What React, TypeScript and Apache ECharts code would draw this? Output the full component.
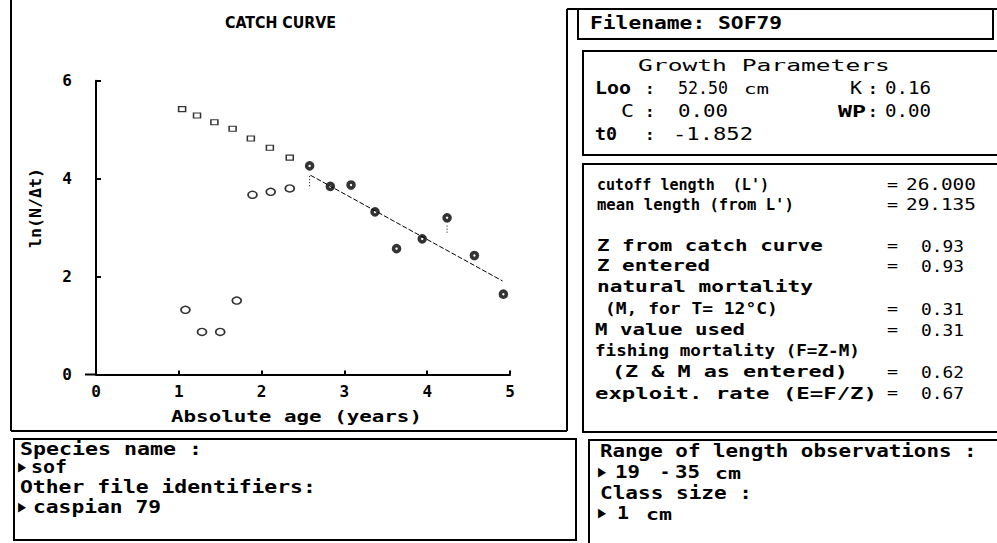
import React, { useEffect, useRef } from "react";
import * as echarts from "echarts";

// ---- data ----
const xTickLabels = ["0", "1", "2", "3", "4", "5"];
const yTickLabels = ["0", "2", "4", "6"];
// back-calculated (expected) points, small open squares
const expAge = [1.04, 1.22, 1.43, 1.65, 1.87, 2.1, 2.34];
const expLnN = [5.42, 5.29, 5.15, 5.02, 4.82, 4.63, 4.43];
// points not used in the regression (open circles)
const unusedAge = [1.08, 1.28, 1.5, 1.7, 1.89, 2.11, 2.34];
const unusedLnN = [1.32, 0.87, 0.87, 1.51, 3.67, 3.73, 3.8];
// points used in the regression (filled)
const usedAge = [2.58, 2.83, 3.08, 3.37, 3.63, 3.94, 4.24, 4.57, 4.92];
const usedLnN = [4.26, 3.84, 3.87, 3.32, 2.57, 2.77, 3.2, 2.43, 1.64];
// fitted regression line end points
const fitAge = [2.59, 4.91];
const fitLnN = [4.07, 1.91];
// short dotted drop marks under two of the used points
const dropAge = [2.58, 4.24];
const dropTop = [4.05, 3.04];
const dropBottom = [3.84, 2.86];

// ---- side panel texts ----
const fileName = "SOF79";
const speciesName = "sof";
const otherIds = "caspian 79";
const growthLoo = "52.50";
const growthK = "0.16";
const growthC = "0.00";
const growthWP = "0.00";
const growthT0 = "-1.852";
const statLabels = [
  "cutoff length  (L')",
  "mean length (from L')",
  "Z from catch curve",
  "Z entered",
  "natural mortality",
  "(M, for T= 12°C)",
  "M value used",
  "fishing mortality (F=Z-M)",
  "(Z & M as entered)",
  "exploit. rate (E=F/Z)",
];
const statValues = ["26.000", "29.135", "0.93", "0.93", "", "0.31", "0.31", "", "0.62", "0.67"];
const lengthRange = ["19", "35"];
const classSize = "1";

const MONO = '"DejaVu Sans Mono"';
const SANS = '"DejaVu Sans"';

function txt(
  x: number,
  y: number,
  s: string,
  w: number | null,
  size: number,
  weight: string = "bold",
  family: string = MONO,
  extra: any = {}
) {
  const natural = s.length * 0.602 * size;
  const sx = w ? w / natural : 1;
  return {
    type: "text",
    x,
    y,
    scaleX: extra.scaleX ?? sx,
    silent: true,
    rotation: extra.rotation ?? 0,
    style: {
      text: s,
      fill: "#000",
      font: `${weight} ${size}px ${family}`,
      align: extra.align || "left",
      verticalAlign: "middle",
      textAlign: extra.align || "left",
      textVerticalAlign: "middle",
    },
  };
}

function arrow(x: number, y: number) {
  return txt(x, y, "\u25B6", null, 13, "normal", SANS, { scaleX: 0.8 });
}

function ln(x1: number, y1: number, x2: number, y2: number, w = 2) {
  return {
    type: "line",
    silent: true,
    shape: { x1, y1, x2, y2 },
    style: { stroke: "#000", lineWidth: w },
  };
}

function box(x: number, y: number, w: number, h: number) {
  return {
    type: "rect",
    silent: true,
    shape: { x, y, width: w, height: h },
    style: { fill: "none", stroke: "#000", lineWidth: 2 },
  };
}

export default function App() {
  const ref = useRef<HTMLDivElement>(null);
  useEffect(() => {
    if (!ref.current) return;
    const chart = echarts.init(ref.current, null, { renderer: "svg" });

    const statRowY = [185, 205, 246, 266, 287, 309, 330, 351, 372, 393];
    const statLabelX = [597, 597, 597, 597, 597, 605, 595, 595, 612, 595];
    const statLabelW = [172, 197, 226, 113, 216, 173, 150, 265, 236, 282];

    const graphics: any[] = [
      // frames
      ln(11, 0, 11, 431),
      ln(11, 431, 567, 431),
      ln(567, 9, 567, 431),
      ln(567, 9, 997, 9),
      box(578, 9, 415, 30),
      box(583, 51, 420, 104),
      box(583, 164, 420, 268),
      box(14, 439, 562, 101),
      box(589, 440, 420, 120),
      // chart title and axis names
      txt(225, 22, "CATCH CURVE", null, 15, "bold", SANS, { scaleX: 0.95 }),
      txt(36, 208, "ln(N/\u0394t)", 80, 15, "bold", MONO, { rotation: Math.PI / 2, align: "center" }),
      txt(171, 416, "Absolute age (years)", 251, 16, "bold"),
      // x axis stub left of 0
      ln(85, 374.5, 97, 374.5),
      // species box
      txt(20, 449, "Species name :", 182, 17),
      arrow(18, 467),
      txt(31, 467, speciesName, 36, 17),
      txt(20, 487, "Other file identifiers:", 296, 17),
      arrow(18, 507),
      txt(33, 507, otherIds, 128, 17),
      // range box
      txt(600, 451, "Range of length observations :", 377, 17),
      arrow(598, 472),
      txt(615, 472, lengthRange[0], 25, 17),
      txt(660, 472, "-", 10, 17),
      txt(675, 472, lengthRange[1], 25, 17),
      txt(715, 473, "cm", 26, 16),
      txt(600, 493, "Class size :", 152, 17),
      arrow(598, 513),
      txt(617, 513, classSize, 12, 17),
      txt(646, 514, "cm", 26, 16),
      // filename
      txt(590, 23, "Filename: " + fileName, 192, 17),
      // growth parameters
      txt(638, 66, "Growth Parameters", 252, 16, "normal"),
      txt(595, 88, "Loo", 36, 17),
      txt(645, 88, ":", null, 16),
      txt(678, 88, growthLoo, 50, 17, "normal"),
      txt(744, 89, "cm", 25, 14, "normal"),
      txt(850, 88, "K", 12, 17, "normal"),
      txt(868, 88, ":", null, 16),
      txt(885, 88, growthK, 46, 17, "normal"),
      txt(621, 111, "C", 13, 17, "normal"),
      txt(645, 111, ":", null, 16),
      txt(678, 111, growthC, 50, 17, "normal"),
      txt(838, 111, "WP", 28, 16),
      txt(868, 111, ":", null, 16),
      txt(885, 111, growthWP, 46, 17, "normal"),
      txt(595, 134, "t0", 22, 17),
      txt(645, 134, ":", null, 16),
      txt(673, 134, growthT0, 80, 17, "normal"),
    ];

    statLabels.forEach((s, i) => {
      graphics.push(txt(statLabelX[i], statRowY[i], s, statLabelW[i], 15));
      const v = statValues[i];
      if (v) {
        graphics.push(txt(887, statRowY[i], "=", 11, 15, "normal"));
        const isLong = v.length > 4;
        graphics.push(txt(isLong ? 906 : 921, statRowY[i], v, isLong ? 70 : 43, 16, "normal"));
      }
    });

    const dropSeries = dropAge.map((a, i) => ({
      name: "drop" + i,
      type: "line",
      showSymbol: false,
      silent: true,
      lineStyle: { color: "#000", width: 1, type: [1, 2] },
      data: [
        [a, dropTop[i]],
        [a, dropBottom[i]],
      ],
    }));

    const option: any = {
      animation: false,
      backgroundColor: "#fff",
      grid: { left: 96, top: 80.7, width: 414, height: 293.8, containLabel: false },
      xAxis: {
        type: "value",
        min: 0,
        max: 5,
        interval: 1,
        axisLine: { show: true, lineStyle: { color: "#000", width: 2 } },
        axisTick: { show: true, inside: true, length: 4, lineStyle: { color: "#000", width: 2 } },
        axisLabel: {
          color: "#000",
          fontFamily: MONO,
          fontWeight: "bold",
          fontSize: 16,
          margin: 9,
          formatter: (v: number) => xTickLabels[Math.round(v)] ?? String(v),
        },
        splitLine: { show: false },
      },
      yAxis: {
        type: "value",
        min: 0,
        max: 6,
        interval: 2,
        offset: 11,
        axisLine: { show: true, lineStyle: { color: "#000", width: 2 } },
        axisTick: { show: true, inside: true, length: 5, lineStyle: { color: "#000", width: 2 } },
        axisLabel: {
          color: "#000",
          fontFamily: MONO,
          fontWeight: "bold",
          fontSize: 16,
          margin: 13,
          formatter: (v: number) => yTickLabels[Math.round(v / 2)] ?? String(v),
        },
        splitLine: { show: false },
      },
      series: [
        {
          name: "expected",
          type: "scatter",
          symbol: "rect",
          symbolSize: [7, 5],
          itemStyle: { color: "#fff", borderColor: "#000", borderWidth: 1.3 },
          data: expAge.map((a, i) => [a, expLnN[i]]),
        },
        {
          name: "not used",
          type: "scatter",
          symbol: "circle",
          symbolSize: [9, 7],
          itemStyle: { color: "#fff", borderColor: "#000", borderWidth: 1.6 },
          data: unusedAge.map((a, i) => [a, unusedLnN[i]]),
        },
        {
          name: "fit",
          type: "line",
          showSymbol: false,
          lineStyle: { color: "#000", width: 1, type: [5, 2] },
          data: fitAge.map((a, i) => [a, fitLnN[i]]),
        },
        ...dropSeries,
        {
          name: "used",
          type: "scatter",
          symbol: "circle",
          symbolSize: 6,
          itemStyle: { color: "#fff", borderColor: "#000", borderWidth: 3.6 },
          data: usedAge.map((a, i) => [a, usedLnN[i]]),
        },
      ],
      graphic: graphics,
    };
    chart.setOption(option);
    return () => chart.dispose();
  }, []);

  return (
    <div
      ref={ref}
      style={{ position: "fixed", left: 0, top: 0, width: 997, height: 543, background: "#fff" }}
    />
  );
}
